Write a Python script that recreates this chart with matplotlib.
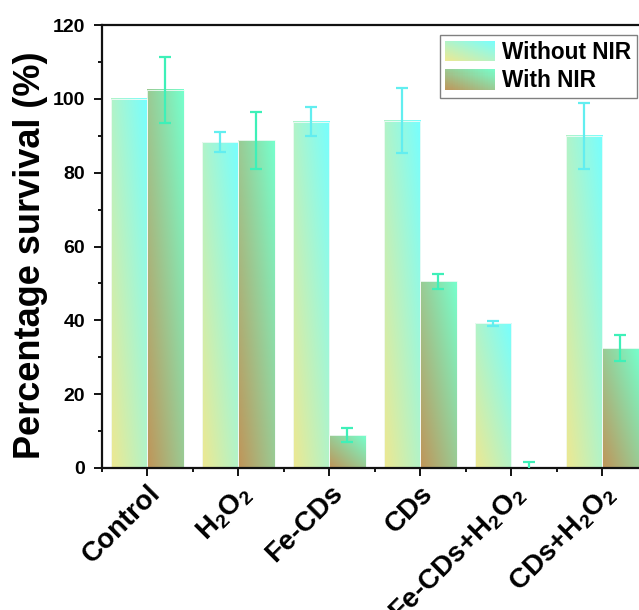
import numpy as np
import matplotlib
matplotlib.use("Agg")
import matplotlib.pyplot as plt
from matplotlib.patches import Rectangle
from matplotlib.legend_handler import HandlerBase
from matplotlib.ticker import MultipleLocator, FixedLocator
import matplotlib.transforms as mtransforms

plt.rcParams['font.family'] = ['Liberation Sans', 'DejaVu Sans']
plt.rcParams['font.weight'] = 'bold'
plt.rcParams['mathtext.default'] = 'regular'

# ---- data ----
categories = ['Control', 'H$_2$O$_2$', 'Fe-CDs', 'CDs', 'Fe-CDs+H$_2$O$_2$', 'CDs+H$_2$O$_2$']
without_nir = [100.0, 88.3, 93.8, 94.1, 39.2, 90.0]
without_err = [0.0, 2.8, 4.0, 8.8, 0.7, 9.0]
with_nir = [102.4, 88.8, 8.9, 50.6, 0.2, 32.4]
with_err = [9.0, 7.7, 1.8, 2.0, 1.3, 3.5]
series_labels = ['Without NIR', 'With NIR']

# gradient colours (bottom-left -> top-right)
grad_without = (np.array([238, 232, 145]) / 255, np.array([118, 255, 255]) / 255)
grad_with = (np.array([192, 148, 88]) / 255, np.array([118, 255, 205]) / 255)
err_without_c = '#62EEF0'
err_with_c = '#3EF0B8'

W, H = 639, 610
fig = plt.figure(figsize=(W / 100, H / 100), dpi=100)
ax = fig.add_axes([101.7 / W, 1 - 468 / H, 546 / W, 443 / H])

x = np.arange(len(categories))
bw = 0.4


def grad_array(c0, c1, n=80):
    u = np.linspace(0, 1, n)
    U, V = np.meshgrid(u, u)
    T = (U + V) / 2
    return c0 + (c1 - c0) * T[..., None]


bars1 = ax.bar(x - bw / 2, without_nir, bw, facecolor='none', edgecolor='#f4fbf8', linewidth=0.6, zorder=2)
bars2 = ax.bar(x + bw / 2, with_nir, bw, facecolor='none', edgecolor='#f4fbf8', linewidth=0.6, zorder=2)

for bars, (c0, c1) in ((bars1, grad_without), (bars2, grad_with)):
    img = grad_array(c0, c1)
    for r in bars.patches:
        x0, y0, w, h = r.get_x(), r.get_y(), r.get_width(), r.get_height()
        ax.imshow(img, extent=(x0, x0 + w, y0, y0 + h), origin='lower', aspect='auto',
                  interpolation='bilinear', zorder=1.5)

for xs, ys, es, col in ((x - bw / 2, without_nir, without_err, err_without_c),
                        (x + bw / 2, with_nir, with_err, err_with_c)):
    xs = np.asarray(xs); ys = np.asarray(ys); es = np.asarray(es)
    m = es > 0
    ax.errorbar(xs[m], ys[m], yerr=es[m], fmt='none', ecolor=col,
                elinewidth=1.6, capsize=4.5, capthick=1.6, zorder=3)

ax.set_xlim(-0.5, len(categories) - 0.5)
ax.set_ylim(0, 120)
ax.set_aspect('auto')

ax.yaxis.set_major_locator(MultipleLocator(20))
ax.yaxis.set_minor_locator(MultipleLocator(10))
ax.set_xticks(x)
ax.xaxis.set_minor_locator(FixedLocator(np.arange(-0.5, len(categories), 1.0)))
ax.set_xticklabels(categories, rotation=45, rotation_mode='anchor', ha='right', va='top',
                   fontsize=20, fontweight='bold')
offset = mtransforms.ScaledTranslation(10 / 100, -4 / 100, fig.dpi_scale_trans)
for lab in ax.get_xticklabels():
    lab.set_transform(lab.get_transform() + offset)

ax.tick_params(axis='y', which='major', labelsize=14, length=6, width=1.3, pad=6, direction='out')
ax.tick_params(axis='y', which='minor', length=2.8, width=1.3, direction='out')
ax.tick_params(axis='x', which='major', length=6, width=1.3, pad=3, direction='out')
ax.tick_params(axis='x', which='minor', length=3, width=1.3, direction='out')
for lab in ax.get_yticklabels():
    lab.set_fontweight('bold')

for s in ax.spines.values():
    s.set_linewidth(1.6)
    s.set_color('#111111')

ax.set_ylabel('Percentage survival (%)', fontsize=26, fontweight='bold', va='center')
ax.yaxis.set_label_coords((31 - 101.7) / 546, (468 - 255) / 443)


class GradHandler(HandlerBase):
    def __init__(self, c0, c1, n=20):
        super().__init__()
        self.c0, self.c1, self.n = c0, c1, n

    def create_artists(self, legend, orig_handle, xdescent, ydescent, width, height, fontsize, trans):
        arts = []
        n = self.n
        for i in range(n):
            for j in range(n):
                t = ((i + 0.5) / n + (j + 0.5) / n) / 2
                col = self.c0 + (self.c1 - self.c0) * t
                r = Rectangle((-xdescent + i * width / n, -ydescent + j * height / n),
                              width / n * 1.05, height / n * 1.05, facecolor=col,
                              edgecolor='none', linewidth=0, antialiased=False, transform=trans)
                arts.append(r)
        return arts


h1 = Rectangle((0, 0), 1, 1)
h2 = Rectangle((0, 0), 1, 1)
leg = ax.legend([h1, h2], series_labels,
                handler_map={h1: GradHandler(*grad_without), h2: GradHandler(*grad_with)},
                loc='upper right', bbox_to_anchor=((636.7 - 101.7) / 546, (468 - 35) / 443),
                borderaxespad=0, handlelength=2.2, handleheight=1.0,
                labelspacing=0.25, borderpad=0.25, handletextpad=0.3, fancybox=False,
                framealpha=1, edgecolor='#808080', prop={'weight': 'bold', 'size': 16.3})
leg.get_frame().set_linewidth(1.0)

fig.savefig('out.png', dpi=100)
